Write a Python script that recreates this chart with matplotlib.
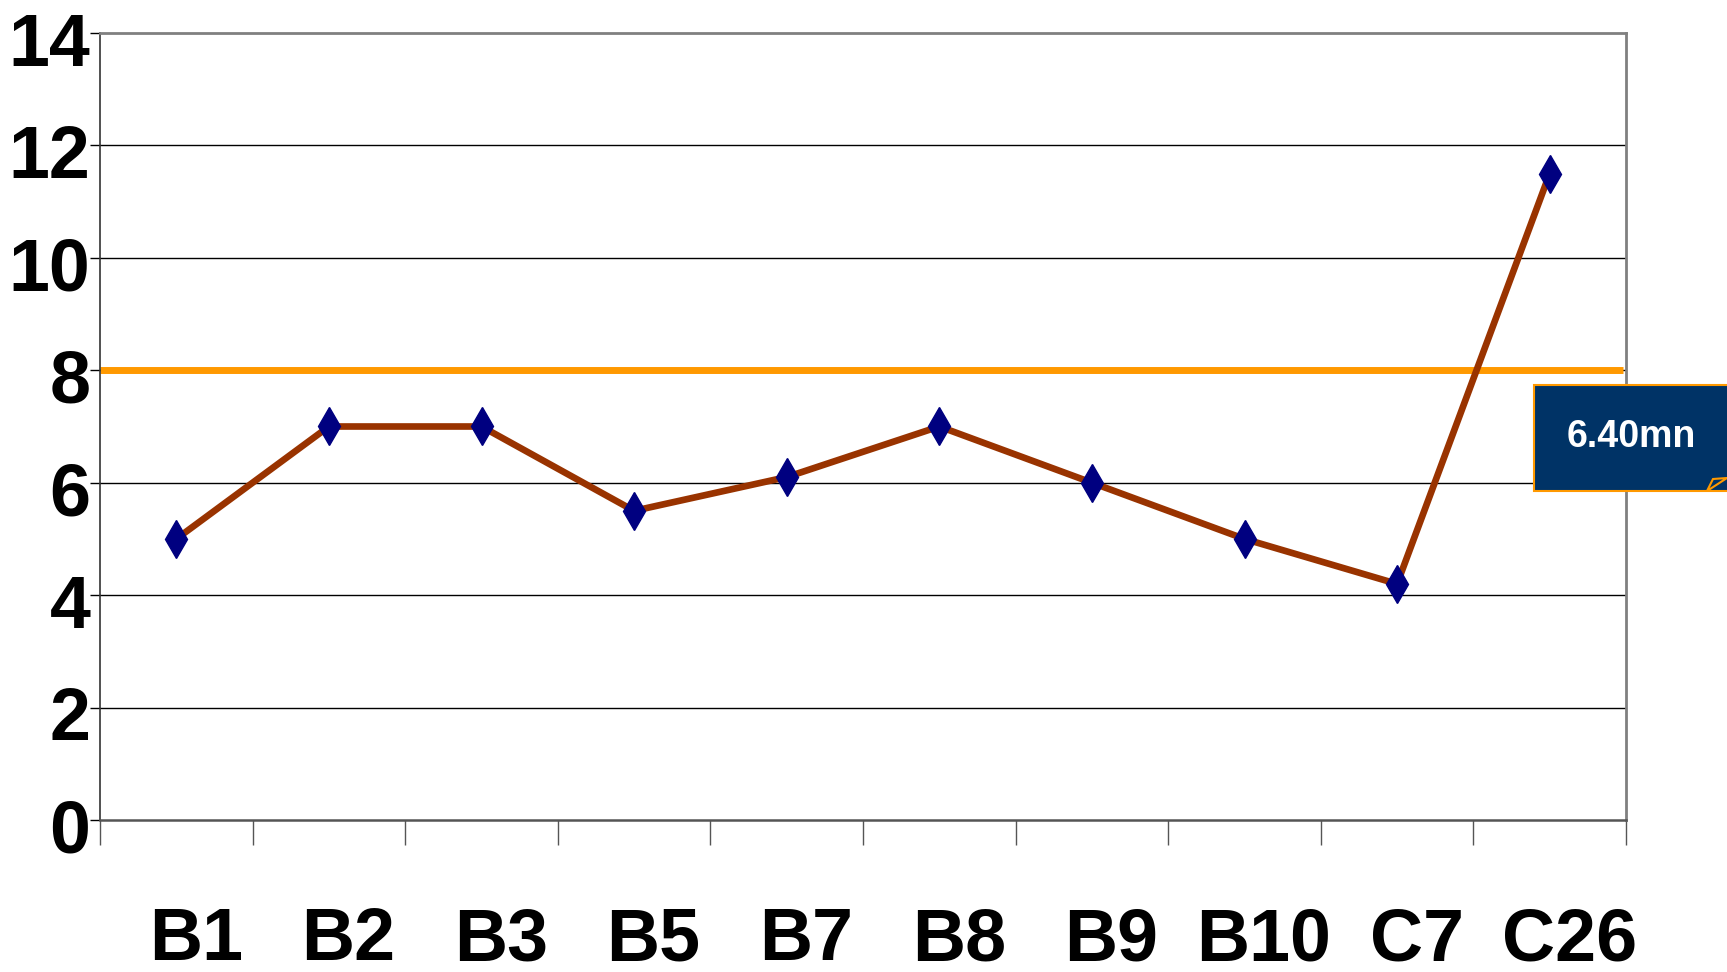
import matplotlib
matplotlib.use("Agg")
import matplotlib.pyplot as plt
from matplotlib.patches import Rectangle, Polygon
from matplotlib.transforms import ScaledTranslation
import numpy as np

categories = ["B1", "B2", "B3", "B5", "B7", "B8", "B9", "B10", "C7", "C26"]
values = [5.0, 7.0, 7.0, 5.5, 6.1, 7.0, 6.0, 5.0, 4.2, 11.5]
target = 8.0
yticks = [0, 2, 4, 6, 8, 10, 12, 14]
callout_text = "6.40mn"

plt.rcParams['font.family'] = ['Liberation Sans', 'DejaVu Sans']

fig = plt.figure(figsize=(17.27, 9.72), dpi=100)
ax = fig.add_axes([100/1727, 1-820/972, 1526/1727, 787/972])

x = np.arange(len(categories))
ax.set_xlim(-0.5, len(categories) - 0.5)
ax.set_ylim(0, 14)

for yv in yticks[1:-1]:
    ax.axhline(yv, color="black", lw=1.0, zorder=1)

ax.plot([-0.5, len(categories) - 0.5 - 0.02], [target, target], color="#FF9900", lw=5, zorder=2,
        solid_capstyle="butt")
ax.plot(x, values, color="#993300", lw=4.8, zorder=3,
        marker="d", markersize=19, markerfacecolor="#000080", markeredgecolor="#000080")

ax.set_yticks(yticks)
ax.set_yticklabels([str(v) for v in yticks], fontsize=53, fontweight="bold")
ax.tick_params(axis="y", length=7, width=1, color="black", pad=0)
for lab in ax.get_yticklabels():
    lab.set_transform(lab.get_transform() + ScaledTranslation(0, -4 / 72, fig.dpi_scale_trans))

ax.set_xticks(x)
ax.set_xticklabels(categories, fontsize=53, fontweight="bold")
ax.set_xticks(np.arange(len(categories) + 1) - 0.5, minor=True)
ax.tick_params(axis="x", which="major", length=0, pad=62)
ax.tick_params(axis="x", which="minor", length=18, width=1, color="#555555")
for lab in ax.get_xticklabels():
    lab.set_transform(lab.get_transform() + ScaledTranslation(14 / 72, 0, fig.dpi_scale_trans))

for s in ["top", "right"]:
    ax.spines[s].set_color("#808080")
    ax.spines[s].set_linewidth(2)
ax.spines["left"].set_color("#333333")
ax.spines["left"].set_linewidth(1.2)
ax.spines["bottom"].set_color("#555555")
ax.spines["bottom"].set_linewidth(1.8)

# callout box (figure pixel coordinates)
W, H = 1727, 972
bx0, by0, bx1, by1 = 1534, 385, 1760, 491
rect = Rectangle((bx0 / W, 1 - by1 / H), (bx1 - bx0) / W, (by1 - by0) / H,
                 transform=fig.transFigure, facecolor="#003366", edgecolor="#FF9900",
                 lw=1.5, clip_on=False, zorder=10)
fig.patches.append(rect)
fold = Polygon([(1707 / W, 1 - 491 / H), (1713 / W, 1 - 479 / H), (1727 / W, 1 - 478 / H)],
               closed=True, transform=fig.transFigure, facecolor="#003366",
               edgecolor="#FF9900", lw=1.5, zorder=11)
fig.patches.append(fold)
fig.text(1631 / W, 1 - 437 / H, callout_text, color="white", fontsize=27,
         fontweight="bold", ha="center", va="center", zorder=12)

fig.savefig("out.png", dpi=100, facecolor="white")
